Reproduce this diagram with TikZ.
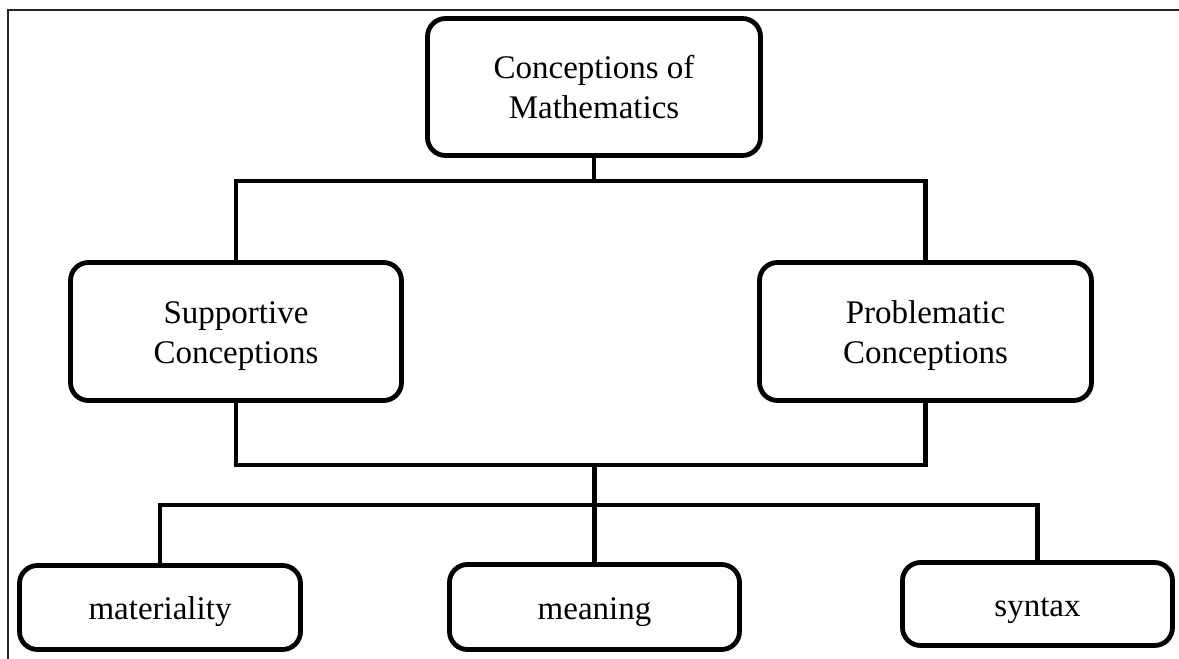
\documentclass[tikz,border=0pt]{standalone}
\usepackage{fontspec}
\setmainfont{Liberation Serif}
\newcommand{\twoline}[2]{\raisebox{-4pt}[\height][\depth]{\begin{tabular}{@{}c@{}}#1\\#2\end{tabular}}}
\begin{document}
\begin{tikzpicture}[x=1pt,y=-1pt,
  box/.style={draw=black,line width=4.8pt,rounded corners=18pt,fill=white,
    align=center,inner sep=0pt,font=\fontsize{33}{40}\selectfont,text=black},
  leaf/.style={box,text height=30pt,text depth=6pt},
  link/.style={draw=black,line width=4.8pt,line join=miter},
  frame/.style={draw=black!85,line width=2pt}]
\useasboundingbox (0,0) rectangle (1179,659);
\draw[frame] (8,659) -- (8,10) -- (1179,10);

\node[box,minimum width=333pt,minimum height=137pt] (top) at (594,87) {Conceptions of\\Mathematics};
\node[box,minimum width=331pt,minimum height=138pt] (sup) at (236,331.5) {\twoline{Supportive}{Conceptions}};
\node[box,minimum width=332pt,minimum height=138pt] (prob) at (925.5,331.5) {\twoline{Problematic}{Conceptions}};
\node[leaf,minimum width=281pt,minimum height=84pt] (mat) at (160,607.5) {materiality};
\node[leaf,minimum width=290pt,minimum height=85pt] (mean) at (594.5,607) {meaning};
\node[leaf,minimum width=270pt,minimum height=83pt] (syn) at (1037.5,604) {syntax};

\coordinate (j1) at (top.south |- 0,181);
\coordinate (j2) at (mean.north |- 0,465);
\coordinate (j3) at (mean.north |- 0,505);

\draw[link] (top.south) -- (j1);
\draw[link] (sup.north) |- (j1) -| (prob.north);
\draw[link] (sup.south) |- (j2) -| (prob.south);
\draw[link] (j2) -- (mean.north);
\draw[link] (mat.north) |- (j3) -| (syn.north);
\end{tikzpicture}
\end{document}
